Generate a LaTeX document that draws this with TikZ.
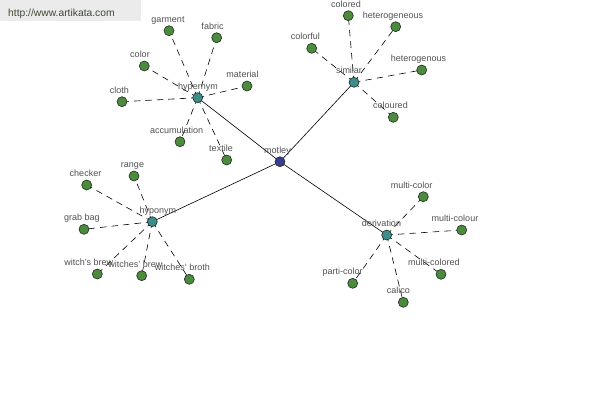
\documentclass[tikz,border=0pt]{standalone}
\usepackage{fontspec}
\setmainfont{Liberation Sans}
\usetikzlibrary{backgrounds}
\definecolor{leafgreen}{HTML}{4C8A3E}
\definecolor{hubteal}{HTML}{3C8C8C}
\definecolor{rootblue}{HTML}{3A3C94}
\definecolor{ringdark}{HTML}{1E2E1E}
\definecolor{lblgray}{HTML}{505050}
\definecolor{bannergray}{HTML}{EBEBEB}
\definecolor{bannertext}{HTML}{3E4A34}
\tikzset{
  dot/.style={circle, draw=ringdark, line width=0.6pt, minimum size=10pt, inner sep=0pt},
  leaf/.style={dot, fill=leafgreen},
  hub/.style={dot, fill=hubteal},
  root/.style={dot, fill=rootblue},
  lbl/.style={anchor=base, inner sep=0pt, text=lblgray, font=\fontsize{9}{10}\selectfont},
  dashedge/.style={draw=black, line width=0.6pt, dash pattern=on 6.5pt off 5pt},
  solidedge/.style={draw=black, line width=0.6pt}
}
\newcommand{\leafnode}[5]{%
  \node[leaf] (#1) at (#2,#3) {};
  \node[lbl] (#1-l) at (#4,#3-8.5) {#5};}
\begin{document}
\begin{tikzpicture}[x=1pt,y=-1pt]
\useasboundingbox (0,0) rectangle (600,400);
\node[fill=bannergray, anchor=north west, minimum width=141pt, minimum height=20.5pt, inner sep=0pt] (banner) at (0,0) {};
\node[anchor=base west, inner sep=0pt, text=bannertext, font=\fontsize{10.3}{12}\selectfont] (url) at (8,16) {http://www.artikata.com};

% hubs
\node[root] (motley) at (280,161.7) {};
\node[lbl] (motley-l) at (277.5,153.2) {motley};
\node[hub] (hypernym) at (197.7,97.7) {};
\node[lbl] (hypernym-l) at (198,89.2) {hypernym};
\node[hub] (similar) at (354,82.3) {};
\node[lbl] (similar-l) at (349,73.8) {similar};
\node[hub] (hyponym) at (152.3,221.7) {};
\node[lbl] (hyponym-l) at (157.8,213.2) {hyponym};
\node[hub] (derivation) at (386.7,235) {};
\node[lbl] (derivation-l) at (381.5,226.5) {derivation};

% hypernym leaves
\leafnode{garment}{169}{30.7}{168}{garment}
\leafnode{fabric}{216.7}{37.7}{212.5}{fabric}
\leafnode{color}{144.3}{66}{140}{color}
\leafnode{material}{247}{86}{242.5}{material}
\leafnode{cloth}{122}{101.7}{119.5}{cloth}
\leafnode{accumulation}{180}{141.7}{176.7}{accumulation}
\leafnode{textile}{226.7}{160}{221}{textile}

% similar leaves
\leafnode{colored}{348.3}{15.7}{346}{colored}
\leafnode{heterogeneous}{395.7}{26.7}{393}{heterogeneous}
\leafnode{colorful}{311.7}{48.3}{305.3}{colorful}
\leafnode{heterogenous}{421.7}{70}{418.5}{heterogenous}
\leafnode{coloured}{393.3}{117.3}{390.5}{coloured}

% hyponym leaves
\leafnode{checker}{86.7}{185}{85.5}{checker}
\leafnode{range}{134}{176}{132.5}{range}
\leafnode{grabbag}{84}{229.3}{82}{grab bag}
\leafnode{witchsbrew}{97.3}{274}{88.7}{witch's brew}
\leafnode{witchesbrew}{141.7}{275.7}{135.5}{witches' brew}
\leafnode{witchesbroth}{189.3}{279.3}{182.5}{witches' broth}

% derivation leaves
\leafnode{multicolor}{423.3}{196.7}{411.7}{multi-color}
\leafnode{multicolour}{461.7}{230}{455}{multi-colour}
\leafnode{multicolored}{441}{274.3}{434}{multi-colored}
\leafnode{particolor}{352.7}{283.3}{342.7}{parti-color}
\leafnode{calico}{403.3}{302.3}{398.3}{calico}

\begin{pgfonlayer}{background}
\foreach \h in {hypernym,similar,hyponym,derivation}
  \draw[solidedge] (motley.center) -- (\h.center);
\foreach \l in {garment,fabric,color,material,cloth,accumulation,textile}
  \draw[dashedge] (hypernym.center) -- (\l.center);
\foreach \l in {colored,heterogeneous,colorful,heterogenous,coloured}
  \draw[dashedge] (similar.center) -- (\l.center);
\foreach \l in {checker,range,grabbag,witchsbrew,witchesbrew,witchesbroth}
  \draw[dashedge] (hyponym.center) -- (\l.center);
\foreach \l in {multicolor,multicolour,multicolored,particolor,calico}
  \draw[dashedge] (derivation.center) -- (\l.center);
\end{pgfonlayer}
\end{tikzpicture}
\end{document}
